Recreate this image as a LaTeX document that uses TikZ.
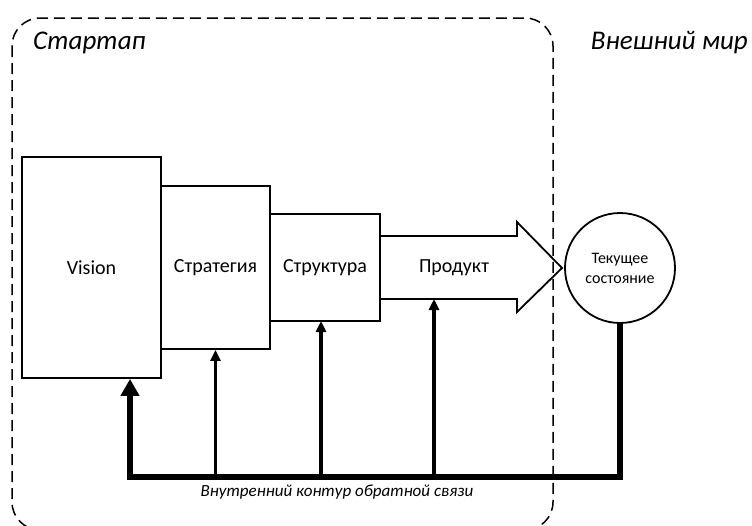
\documentclass[tikz,border=0pt]{standalone}
\usepackage{fontspec}
\setmainfont{Carlito}
\usetikzlibrary{arrows.meta}
\begin{document}
\begin{tikzpicture}[x=1pt,y=-1pt,
  blk/.style={draw, line width=1.8pt, rectangle, inner sep=0pt, font=\fontsize{20}{24}\selectfont},
  zone/.style={font=\fontsize{27}{32}\selectfont\itshape, inner sep=0pt},
  fb/.style={line width=#1},
  bigtip/.style={-{Triangle[length=17pt,width=18pt]}},
  tip/.style={-{Triangle[length=11pt,width=10pt]}}
]
\useasboundingbox (0,0) rectangle (752,525);
\begin{scope}
\clip (0,0) rectangle (752,525);
\draw[line width=1.5pt, dash pattern=on 11pt off 6pt, rounded corners=28pt] (12,18) rectangle (553,530);
\end{scope}
\node[zone, anchor=west] (startup) at (33,43) {Стартап};
\node[zone, anchor=east] (outer) at (748,43) {Внешний мир};

\node[blk, minimum width=139pt, minimum height=221pt] (V) at (91.5,267.5) {Vision};
\node[blk, minimum width=109pt, minimum height=163pt] (S) at (215.5,267.5) {Стратегия};
\node[blk, minimum width=110pt, minimum height=107pt] (T) at (325,267.5) {Структура};
\draw[line width=1.8pt, line join=miter] (380,236) -- (517,236) -- (517,222) -- (562,268) -- (517,312) -- (517,299) -- (380,299);
\node[font=\fontsize{20}{24}\selectfont, inner sep=0pt] (P) at (454,268) {Продукт};
\coordinate (Pb) at (434,299);
\node[draw, circle, line width=1.8pt, minimum size=110pt, inner sep=0pt, align=center, font=\fontsize{16}{20}\selectfont] (C) at (620,268) {Текущее\\состояние};

\coordinate (corner) at (130,477);
\draw[fb=6pt, bigtip, line join=miter] (C.south) |- (corner) -- (corner |- V.south);
\draw[fb=3pt, tip] (S.south |- corner) -- (S.south);
\draw[fb=4pt, tip] (321,477) -- (321,321);
\draw[fb=4pt, tip] (Pb |- corner) -- (Pb);
\node[font=\fontsize{17}{20}\selectfont\itshape, inner sep=0pt] (lbl) at (337,492) {Внутренний контур обратной связи};
\end{tikzpicture}
\end{document}
